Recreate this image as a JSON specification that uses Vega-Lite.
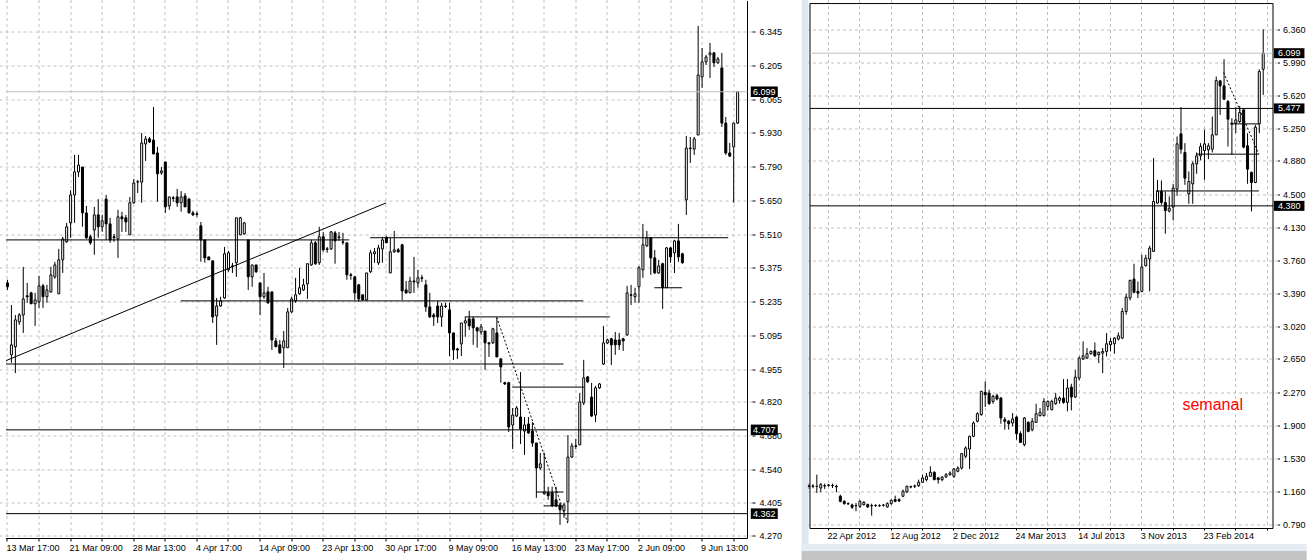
{
"$schema": "https://vega.github.io/schema/vega-lite/v6.json",
"background": "white",
"padding": 0,
"spacing": 51.5,
"bounds": "flush",
"config": {
  "view": {"stroke": null},
  "axis": {"labelFont": "Liberation Sans", "labelFontSize": 9, "labelColor": "black", "tickColor": "black", "tickWidth": 1, "domain": false, "gridColor": "#c0c0c0", "gridDash": [3,3], "gridWidth": 1, "translate": 0, "zindex": 0, "labelOverlap": false, "labelFlush": false, "labelBound": false}
},
"datasets": {
  "d1": [
{"k":0,"o":5.312,"h":5.325,"l":5.283,"c":5.296},{"k":1,"o":5.016,"h":5.221,"l":4.983,"c":5.057},{"k":2,"o":5.049,"h":5.180,"l":4.941,"c":5.160},{"k":3,"o":5.151,"h":5.188,"l":5.139,"c":5.180},{"k":4,"o":5.180,"h":5.378,"l":5.106,"c":5.246},{"k":5,"o":5.259,"h":5.312,"l":5.230,"c":5.255},{"k":6,"o":5.271,"h":5.275,"l":5.226,"c":5.226},{"k":7,"o":5.226,"h":5.271,"l":5.135,"c":5.242},{"k":8,"o":5.234,"h":5.341,"l":5.209,"c":5.300},{"k":9,"o":5.300,"h":5.308,"l":5.209,"c":5.255},
{"k":10,"o":5.255,"h":5.304,"l":5.230,"c":5.283},{"k":11,"o":5.275,"h":5.378,"l":5.271,"c":5.345},{"k":12,"o":5.337,"h":5.399,"l":5.329,"c":5.386},{"k":13,"o":5.267,"h":5.452,"l":5.267,"c":5.407},{"k":14,"o":5.407,"h":5.502,"l":5.353,"c":5.493},{"k":15,"o":5.481,"h":5.559,"l":5.477,"c":5.543},{"k":16,"o":5.559,"h":5.694,"l":5.498,"c":5.674},{"k":17,"o":5.674,"h":5.839,"l":5.559,"c":5.769},{"k":18,"o":5.769,"h":5.839,"l":5.748,"c":5.797},{"k":19,"o":5.789,"h":5.789,"l":5.543,"c":5.600},
{"k":20,"o":5.600,"h":5.629,"l":5.493,"c":5.498},{"k":21,"o":5.502,"h":5.510,"l":5.469,"c":5.477},{"k":22,"o":5.530,"h":5.625,"l":5.428,"c":5.592},{"k":23,"o":5.592,"h":5.657,"l":5.498,"c":5.543},{"k":24,"o":5.543,"h":5.592,"l":5.522,"c":5.568},{"k":25,"o":5.657,"h":5.674,"l":5.489,"c":5.555},{"k":26,"o":5.555,"h":5.580,"l":5.477,"c":5.489},{"k":27,"o":5.502,"h":5.514,"l":5.481,"c":5.498},{"k":28,"o":5.493,"h":5.613,"l":5.415,"c":5.584},{"k":29,"o":5.584,"h":5.605,"l":5.522,"c":5.576},
{"k":30,"o":5.580,"h":5.592,"l":5.522,"c":5.563},{"k":31,"o":5.510,"h":5.666,"l":5.510,"c":5.642},{"k":32,"o":5.642,"h":5.740,"l":5.638,"c":5.723},{"k":33,"o":5.727,"h":5.736,"l":5.682,"c":5.729},{"k":34,"o":5.727,"h":5.929,"l":5.642,"c":5.888},{"k":35,"o":5.884,"h":5.917,"l":5.814,"c":5.905},{"k":36,"o":5.905,"h":5.913,"l":5.888,"c":5.892},{"k":37,"o":5.900,"h":6.036,"l":5.843,"c":5.843},{"k":38,"o":5.847,"h":5.872,"l":5.646,"c":5.761},{"k":39,"o":5.765,"h":5.789,"l":5.757,"c":5.773},
{"k":40,"o":5.810,"h":5.810,"l":5.600,"c":5.625},{"k":41,"o":5.629,"h":5.666,"l":5.613,"c":5.666},{"k":42,"o":5.662,"h":5.670,"l":5.646,"c":5.660},{"k":43,"o":5.666,"h":5.699,"l":5.625,"c":5.642},{"k":44,"o":5.642,"h":5.690,"l":5.605,"c":5.666},{"k":45,"o":5.670,"h":5.682,"l":5.625,"c":5.625},{"k":46,"o":5.657,"h":5.662,"l":5.600,"c":5.600},{"k":47,"o":5.600,"h":5.609,"l":5.588,"c":5.592},{"k":48,"o":5.596,"h":5.605,"l":5.584,"c":5.594},{"k":49,"o":5.547,"h":5.563,"l":5.399,"c":5.489},
{"k":50,"o":5.489,"h":5.489,"l":5.395,"c":5.415},{"k":51,"o":5.419,"h":5.419,"l":5.407,"c":5.407},{"k":52,"o":5.403,"h":5.403,"l":5.147,"c":5.172},{"k":53,"o":5.176,"h":5.250,"l":5.057,"c":5.217},{"k":54,"o":5.217,"h":5.255,"l":5.213,"c":5.238},{"k":55,"o":5.250,"h":5.460,"l":5.246,"c":5.432},{"k":56,"o":5.366,"h":5.444,"l":5.358,"c":5.436},{"k":57,"o":5.382,"h":5.395,"l":5.353,"c":5.380},{"k":58,"o":5.395,"h":5.580,"l":5.337,"c":5.580},{"k":59,"o":5.510,"h":5.584,"l":5.510,"c":5.580},
{"k":60,"o":5.514,"h":5.563,"l":5.510,"c":5.559},{"k":61,"o":5.489,"h":5.489,"l":5.283,"c":5.337},{"k":62,"o":5.337,"h":5.386,"l":5.296,"c":5.386},{"k":63,"o":5.386,"h":5.386,"l":5.353,"c":5.358},{"k":64,"o":5.312,"h":5.312,"l":5.180,"c":5.255},{"k":65,"o":5.255,"h":5.353,"l":5.246,"c":5.271},{"k":66,"o":5.275,"h":5.296,"l":5.226,"c":5.230},{"k":67,"o":5.275,"h":5.275,"l":5.036,"c":5.077},{"k":68,"o":5.073,"h":5.086,"l":5.049,"c":5.049},{"k":69,"o":5.057,"h":5.077,"l":5.020,"c":5.024},
{"k":70,"o":5.045,"h":5.114,"l":4.962,"c":5.073},{"k":71,"o":5.045,"h":5.209,"l":5.045,"c":5.193},{"k":72,"o":5.193,"h":5.255,"l":5.188,"c":5.246},{"k":73,"o":5.238,"h":5.333,"l":5.230,"c":5.263},{"k":74,"o":5.267,"h":5.374,"l":5.263,"c":5.292},{"k":75,"o":5.283,"h":5.329,"l":5.279,"c":5.304},{"k":76,"o":5.308,"h":5.391,"l":5.246,"c":5.391},{"k":77,"o":5.386,"h":5.489,"l":5.382,"c":5.477},{"k":78,"o":5.477,"h":5.485,"l":5.386,"c":5.391},{"k":79,"o":5.395,"h":5.543,"l":5.386,"c":5.502},
{"k":80,"o":5.502,"h":5.522,"l":5.440,"c":5.448},{"k":81,"o":5.452,"h":5.460,"l":5.436,"c":5.450},{"k":82,"o":5.452,"h":5.526,"l":5.448,"c":5.522},{"k":83,"o":5.518,"h":5.526,"l":5.391,"c":5.485},{"k":84,"o":5.498,"h":5.522,"l":5.485,"c":5.502},{"k":85,"o":5.481,"h":5.518,"l":5.469,"c":5.479},{"k":86,"o":5.477,"h":5.477,"l":5.325,"c":5.345},{"k":87,"o":5.345,"h":5.353,"l":5.325,"c":5.343},{"k":88,"o":5.337,"h":5.341,"l":5.242,"c":5.271},{"k":89,"o":5.304,"h":5.308,"l":5.234,"c":5.246},
{"k":90,"o":5.263,"h":5.263,"l":5.238,"c":5.242},{"k":91,"o":5.242,"h":5.353,"l":5.238,"c":5.353},{"k":92,"o":5.358,"h":5.448,"l":5.353,"c":5.436},{"k":93,"o":5.432,"h":5.456,"l":5.395,"c":5.440},{"k":94,"o":5.395,"h":5.469,"l":5.386,"c":5.456},{"k":95,"o":5.452,"h":5.502,"l":5.395,"c":5.489},{"k":96,"o":5.498,"h":5.506,"l":5.477,"c":5.477},{"k":97,"o":5.353,"h":5.498,"l":5.353,"c":5.440},{"k":98,"o":5.440,"h":5.526,"l":5.436,"c":5.448},{"k":99,"o":5.448,"h":5.456,"l":5.436,"c":5.440},
{"k":100,"o":5.469,"h":5.473,"l":5.242,"c":5.279},{"k":101,"o":5.283,"h":5.320,"l":5.267,"c":5.271},{"k":102,"o":5.271,"h":5.337,"l":5.271,"c":5.320},{"k":103,"o":5.320,"h":5.419,"l":5.271,"c":5.316},{"k":104,"o":5.312,"h":5.366,"l":5.292,"c":5.333},{"k":105,"o":5.333,"h":5.345,"l":5.316,"c":5.331},{"k":106,"o":5.304,"h":5.325,"l":5.193,"c":5.213},{"k":107,"o":5.213,"h":5.271,"l":5.168,"c":5.172},{"k":108,"o":5.180,"h":5.188,"l":5.135,"c":5.172},{"k":109,"o":5.217,"h":5.238,"l":5.147,"c":5.172},
{"k":110,"o":5.172,"h":5.230,"l":5.131,"c":5.217},{"k":111,"o":5.217,"h":5.230,"l":5.209,"c":5.215},{"k":112,"o":5.201,"h":5.230,"l":5.011,"c":5.106},{"k":113,"o":5.106,"h":5.106,"l":4.995,"c":5.036},{"k":114,"o":5.040,"h":5.045,"l":4.999,"c":5.036},{"k":115,"o":5.061,"h":5.147,"l":5.011,"c":5.147},{"k":116,"o":5.147,"h":5.172,"l":5.090,"c":5.156},{"k":117,"o":5.164,"h":5.197,"l":5.118,"c":5.135},{"k":118,"o":5.164,"h":5.172,"l":5.057,"c":5.127},{"k":119,"o":5.127,"h":5.131,"l":5.045,"c":5.114},
{"k":120,"o":5.110,"h":5.143,"l":5.098,"c":5.131},{"k":121,"o":5.114,"h":5.114,"l":4.954,"c":5.065},{"k":122,"o":5.065,"h":5.069,"l":5.007,"c":5.061},{"k":123,"o":5.065,"h":5.127,"l":5.061,"c":5.123},{"k":124,"o":5.106,"h":5.168,"l":5.007,"c":5.007},{"k":125,"o":4.999,"h":5.003,"l":4.901,"c":4.966},{"k":126,"o":4.901,"h":4.905,"l":4.892,"c":4.896},{"k":127,"o":4.901,"h":4.905,"l":4.698,"c":4.719},{"k":128,"o":4.727,"h":4.797,"l":4.628,"c":4.768},{"k":129,"o":4.764,"h":4.805,"l":4.760,"c":4.797},
{"k":130,"o":4.760,"h":4.945,"l":4.649,"c":4.711},{"k":131,"o":4.702,"h":4.760,"l":4.604,"c":4.727},{"k":132,"o":4.731,"h":4.760,"l":4.690,"c":4.694},{"k":133,"o":4.702,"h":4.739,"l":4.637,"c":4.653},{"k":134,"o":4.653,"h":4.653,"l":4.427,"c":4.550},{"k":135,"o":4.550,"h":4.612,"l":4.542,"c":4.567},{"k":136,"o":4.444,"h":4.612,"l":4.440,"c":4.452},{"k":137,"o":4.448,"h":4.473,"l":4.419,"c":4.436},{"k":138,"o":4.448,"h":4.473,"l":4.390,"c":4.394},{"k":139,"o":4.419,"h":4.473,"l":4.390,"c":4.394},
{"k":140,"o":4.398,"h":4.407,"l":4.316,"c":4.378},{"k":141,"o":4.374,"h":4.407,"l":4.345,"c":4.398},{"k":142,"o":4.411,"h":4.686,"l":4.328,"c":4.595},{"k":143,"o":4.595,"h":4.653,"l":4.591,"c":4.641},{"k":144,"o":4.641,"h":4.669,"l":4.628,"c":4.639},{"k":145,"o":4.645,"h":4.859,"l":4.645,"c":4.822},{"k":146,"o":4.818,"h":4.995,"l":4.809,"c":4.921},{"k":147,"o":4.925,"h":4.929,"l":4.900,"c":4.905},{"k":148,"o":4.842,"h":4.900,"l":4.760,"c":4.764},{"k":149,"o":4.768,"h":4.888,"l":4.739,"c":4.880},
{"k":150,"o":4.880,"h":4.900,"l":4.876,"c":4.896},{"k":151,"o":4.978,"h":5.135,"l":4.974,"c":5.065},{"k":152,"o":5.065,"h":5.082,"l":5.061,"c":5.077},{"k":153,"o":5.082,"h":5.086,"l":4.974,"c":5.057},{"k":154,"o":5.077,"h":5.110,"l":5.016,"c":5.057},{"k":155,"o":5.077,"h":5.106,"l":5.036,"c":5.057},{"k":156,"o":5.082,"h":5.086,"l":5.032,"c":5.073},{"k":157,"o":5.098,"h":5.300,"l":5.094,"c":5.271},{"k":158,"o":5.263,"h":5.304,"l":5.221,"c":5.261},{"k":159,"o":5.255,"h":5.292,"l":5.230,"c":5.267},
{"k":160,"o":5.296,"h":5.382,"l":5.230,"c":5.374},{"k":161,"o":5.366,"h":5.555,"l":5.333,"c":5.469},{"k":162,"o":5.465,"h":5.526,"l":5.460,"c":5.498},{"k":163,"o":5.498,"h":5.498,"l":5.345,"c":5.415},{"k":164,"o":5.415,"h":5.448,"l":5.349,"c":5.353},{"k":165,"o":5.353,"h":5.407,"l":5.349,"c":5.382},{"k":166,"o":5.391,"h":5.395,"l":5.205,"c":5.292},{"k":167,"o":5.292,"h":5.460,"l":5.292,"c":5.456},{"k":168,"o":5.456,"h":5.460,"l":5.395,"c":5.419},{"k":169,"o":5.436,"h":5.489,"l":5.353,"c":5.485},
{"k":170,"o":5.485,"h":5.555,"l":5.399,"c":5.419},{"k":171,"o":5.432,"h":5.436,"l":5.391,"c":5.395},{"k":172,"o":5.654,"h":5.917,"l":5.592,"c":5.867},{"k":173,"o":5.867,"h":5.913,"l":5.806,"c":5.865},{"k":174,"o":5.863,"h":5.913,"l":5.839,"c":5.905},{"k":175,"o":5.921,"h":6.370,"l":5.921,"c":6.168},{"k":176,"o":6.160,"h":6.279,"l":6.115,"c":6.222},{"k":177,"o":6.222,"h":6.251,"l":6.209,"c":6.242},{"k":178,"o":6.251,"h":6.300,"l":6.156,"c":6.259},{"k":179,"o":6.259,"h":6.263,"l":6.201,"c":6.218},
{"k":180,"o":6.218,"h":6.242,"l":6.214,"c":6.234},{"k":181,"o":6.197,"h":6.259,"l":5.954,"c":5.970},{"k":182,"o":5.970,"h":5.995,"l":5.839,"c":5.847},{"k":183,"o":5.847,"h":5.888,"l":5.830,"c":5.834},{"k":184,"o":5.872,"h":5.970,"l":5.642,"c":5.970},{"k":185,"o":5.970,"h":6.102,"l":5.966,"c":6.099}
  ],
  "w1": [
{"k":0,"o":1.222,"h":1.252,"l":1.192,"c":1.226},{"k":1,"o":1.222,"h":1.245,"l":1.200,"c":1.226},{"k":2,"o":1.222,"h":1.353,"l":1.147,"c":1.220},{"k":3,"o":1.203,"h":1.260,"l":1.155,"c":1.241},{"k":4,"o":1.226,"h":1.252,"l":1.192,"c":1.230},{"k":5,"o":1.233,"h":1.248,"l":1.218,"c":1.237},{"k":6,"o":1.230,"h":1.252,"l":1.203,"c":1.233},{"k":7,"o":1.222,"h":1.241,"l":1.155,"c":1.218},{"k":8,"o":1.110,"h":1.128,"l":1.042,"c":1.053},{"k":9,"o":1.053,"h":1.065,"l":1.016,"c":1.027},
{"k":10,"o":1.027,"h":1.042,"l":1.012,"c":1.025},{"k":11,"o":1.012,"h":1.027,"l":0.967,"c":0.986},{"k":12,"o":1.005,"h":1.035,"l":0.941,"c":1.003},{"k":13,"o":0.997,"h":1.065,"l":0.978,"c":1.053},{"k":14,"o":1.016,"h":1.053,"l":1.005,"c":1.042},{"k":15,"o":1.016,"h":1.027,"l":0.978,"c":0.990},{"k":16,"o":1.005,"h":1.027,"l":0.892,"c":1.003},{"k":17,"o":1.005,"h":1.020,"l":0.990,"c":1.007},{"k":18,"o":1.005,"h":1.020,"l":0.990,"c":1.003},{"k":19,"o":1.008,"h":1.024,"l":0.994,"c":1.010},
{"k":20,"o":0.990,"h":1.042,"l":0.982,"c":1.027},{"k":21,"o":1.027,"h":1.072,"l":1.016,"c":1.065},{"k":22,"o":1.072,"h":1.117,"l":1.042,"c":1.053},{"k":23,"o":1.072,"h":1.087,"l":1.046,"c":1.057},{"k":24,"o":1.110,"h":1.185,"l":1.102,"c":1.166},{"k":25,"o":1.158,"h":1.230,"l":1.147,"c":1.222},{"k":26,"o":1.215,"h":1.230,"l":1.200,"c":1.218},{"k":27,"o":1.222,"h":1.241,"l":1.203,"c":1.226},{"k":28,"o":1.230,"h":1.297,"l":1.215,"c":1.267},{"k":29,"o":1.267,"h":1.353,"l":1.260,"c":1.316},
{"k":30,"o":1.297,"h":1.372,"l":1.278,"c":1.335},{"k":31,"o":1.335,"h":1.447,"l":1.327,"c":1.380},{"k":32,"o":1.380,"h":1.391,"l":1.290,"c":1.297},{"k":33,"o":1.316,"h":1.327,"l":1.252,"c":1.297},{"k":34,"o":1.297,"h":1.335,"l":1.278,"c":1.327},{"k":35,"o":1.327,"h":1.372,"l":1.316,"c":1.353},{"k":36,"o":1.353,"h":1.391,"l":1.342,"c":1.372},{"k":37,"o":1.335,"h":1.428,"l":1.316,"c":1.417},{"k":38,"o":1.391,"h":1.447,"l":1.380,"c":1.428},{"k":39,"o":1.428,"h":1.597,"l":1.410,"c":1.590},
{"k":40,"o":1.560,"h":1.672,"l":1.541,"c":1.654},{"k":41,"o":1.642,"h":1.792,"l":1.417,"c":1.785},{"k":42,"o":1.785,"h":1.954,"l":1.777,"c":1.935},{"k":43,"o":1.954,"h":2.055,"l":1.942,"c":2.040},{"k":44,"o":2.029,"h":2.298,"l":2.017,"c":2.291},{"k":45,"o":2.280,"h":2.404,"l":2.115,"c":2.253},{"k":46,"o":2.272,"h":2.310,"l":2.141,"c":2.152},{"k":47,"o":2.178,"h":2.253,"l":2.152,"c":2.235},{"k":48,"o":2.242,"h":2.265,"l":2.190,"c":2.205},{"k":49,"o":2.216,"h":2.227,"l":1.927,"c":1.991},
{"k":50,"o":1.972,"h":2.002,"l":1.860,"c":1.954},{"k":51,"o":1.957,"h":1.965,"l":1.860,"c":1.927},{"k":52,"o":1.935,"h":2.047,"l":1.897,"c":1.980},{"k":53,"o":2.002,"h":2.017,"l":1.747,"c":1.815},{"k":54,"o":1.815,"h":1.841,"l":1.710,"c":1.717},{"k":55,"o":1.691,"h":2.002,"l":1.672,"c":1.991},{"k":56,"o":1.942,"h":1.954,"l":1.830,"c":1.841},{"k":57,"o":1.860,"h":1.991,"l":1.841,"c":1.954},{"k":58,"o":1.942,"h":2.152,"l":1.935,"c":2.040},{"k":59,"o":2.017,"h":2.104,"l":2.010,"c":2.055},
{"k":60,"o":2.017,"h":2.216,"l":2.010,"c":2.178},{"k":61,"o":2.122,"h":2.190,"l":2.077,"c":2.178},{"k":62,"o":2.085,"h":2.197,"l":2.077,"c":2.178},{"k":63,"o":2.152,"h":2.272,"l":2.141,"c":2.216},{"k":64,"o":2.190,"h":2.235,"l":2.152,"c":2.216},{"k":65,"o":2.216,"h":2.430,"l":2.152,"c":2.167},{"k":66,"o":2.167,"h":2.430,"l":2.066,"c":2.329},{"k":67,"o":2.340,"h":2.377,"l":2.077,"c":2.227},{"k":68,"o":2.227,"h":2.535,"l":2.216,"c":2.452},{"k":69,"o":2.441,"h":2.685,"l":2.415,"c":2.666},
{"k":70,"o":2.655,"h":2.854,"l":2.647,"c":2.692},{"k":71,"o":2.666,"h":2.779,"l":2.655,"c":2.715},{"k":72,"o":2.715,"h":2.752,"l":2.704,"c":2.741},{"k":73,"o":2.749,"h":2.842,"l":2.677,"c":2.692},{"k":74,"o":2.704,"h":2.741,"l":2.610,"c":2.730},{"k":75,"o":2.722,"h":2.779,"l":2.497,"c":2.741},{"k":76,"o":2.741,"h":2.947,"l":2.685,"c":2.827},{"k":77,"o":2.816,"h":2.891,"l":2.741,"c":2.854},{"k":78,"o":2.827,"h":2.902,"l":2.715,"c":2.891},{"k":79,"o":2.880,"h":2.955,"l":2.865,"c":2.917},
{"k":80,"o":2.891,"h":3.229,"l":2.880,"c":3.191},{"k":81,"o":3.191,"h":3.390,"l":3.154,"c":3.352},{"k":82,"o":3.342,"h":3.548,"l":3.316,"c":3.541},{"k":83,"o":3.556,"h":3.728,"l":3.398,"c":3.406},{"k":84,"o":3.417,"h":3.529,"l":3.342,"c":3.398},{"k":85,"o":3.417,"h":3.829,"l":3.406,"c":3.691},{"k":86,"o":3.706,"h":3.829,"l":3.698,"c":3.792},{"k":87,"o":3.781,"h":3.931,"l":3.417,"c":3.904},{"k":88,"o":3.867,"h":4.917,"l":3.867,"c":4.429},{"k":89,"o":4.411,"h":4.673,"l":4.403,"c":4.542},
{"k":90,"o":4.542,"h":4.666,"l":4.392,"c":4.418},{"k":91,"o":4.418,"h":4.542,"l":4.066,"c":4.328},{"k":92,"o":4.321,"h":4.486,"l":4.306,"c":4.354},{"k":93,"o":4.366,"h":4.628,"l":4.216,"c":4.579},{"k":94,"o":4.568,"h":5.161,"l":4.493,"c":5.078},{"k":95,"o":5.191,"h":5.491,"l":4.966,"c":5.018},{"k":96,"o":4.981,"h":5.086,"l":4.617,"c":4.692},{"k":97,"o":4.516,"h":4.767,"l":4.403,"c":4.654},{"k":98,"o":4.628,"h":4.879,"l":4.403,"c":4.853},{"k":99,"o":4.853,"h":4.981,"l":4.741,"c":4.943},
{"k":100,"o":4.943,"h":5.086,"l":4.891,"c":5.048},{"k":101,"o":5.003,"h":5.236,"l":4.673,"c":5.078},{"k":102,"o":5.011,"h":5.086,"l":4.906,"c":5.056},{"k":103,"o":5.018,"h":5.386,"l":4.981,"c":5.179},{"k":104,"o":5.179,"h":5.836,"l":5.179,"c":5.791},{"k":105,"o":5.787,"h":5.798,"l":5.404,"c":5.731},{"k":106,"o":5.731,"h":6.031,"l":5.573,"c":5.581},{"k":107,"o":5.554,"h":5.573,"l":5.048,"c":5.356},{"k":108,"o":5.311,"h":5.367,"l":4.954,"c":5.303},{"k":109,"o":5.311,"h":5.491,"l":5.198,"c":5.348},
{"k":110,"o":5.329,"h":5.506,"l":5.311,"c":5.431},{"k":111,"o":5.461,"h":5.479,"l":5.029,"c":5.041},{"k":112,"o":5.056,"h":5.198,"l":4.628,"c":4.793},{"k":113,"o":4.756,"h":4.767,"l":4.317,"c":4.643},{"k":114,"o":4.643,"h":5.292,"l":4.636,"c":5.266},{"k":115,"o":5.303,"h":5.918,"l":5.198,"c":5.892},{"k":116,"o":5.918,"h":6.368,"l":5.629,"c":6.099}
  ],
  "sl": [
{"k":-0.375,"k2":86.6,"p":5.489,"p2":5.489},{"k":91.9,"k2":182.6,"p":5.498,"p2":5.498},{"k":43.9,"k2":145.9,"p":5.238,"p2":5.238},{"k":115.9,"k2":152.6,"p":5.172,"p2":5.172},{"k":-0.375,"k2":140.9,"p":4.978,"p2":4.978},{"k":127.9,"k2":146.1,"p":4.883,"p2":4.883},{"k":-0.375,"k2":187.5,"p":4.707,"p2":4.707},{"k":-0.375,"k2":187.5,"p":4.362,"p2":4.362},{"k":133.9,"k2":140.9,"p":4.451,"p2":4.451},{"k":135.9,"k2":140.6,"p":4.394,"p2":4.394},{"k":163.9,"k2":170.9,"p":5.292,"p2":5.292},{"k":-0.375,"k2":95.9,"p":4.992,"p2":5.641},{"k":187.5,"k2":187.5,"p":6.4726,"p2":4.2597},{"k":-0.375,"k2":187.5,"p":4.2597,"p2":4.2597}
  ],
  "dl": [{"k":123.95,"k2":142.05,"p":5.171,"p2":4.319}],
  "gl": [{"k":-0.375,"k2":187.5,"p":6.099,"p2":6.099}],
  "bl": [{"p":6.099},{"p":4.707},{"p":4.362}],
  "sr": [
{"k":0.25,"k2":118.5,"p":5.477,"p2":5.477},{"k":0.25,"k2":118.5,"p":4.38,"p2":4.38},{"k":88.6,"k2":114.9,"p":4.548,"p2":4.548},{"k":98.9,"k2":114.9,"p":4.962,"p2":4.962},{"k":107.6,"k2":114.9,"p":5.303,"p2":5.303},{"k":0.25,"k2":0.25,"p":0.747,"p2":6.658},{"k":0.25,"k2":118.5,"p":6.658,"p2":6.658},{"k":118.5,"k2":118.5,"p":6.658,"p2":0.747},{"k":0.25,"k2":118.5,"p":0.747,"p2":0.747}
  ],
  "dr": [{"k":105.9,"k2":114.9,"p":5.881,"p2":4.962}],
  "gr": [{"k":0.25,"k2":118.5,"p":6.099,"p2":6.099}],
  "br": [{"p":6.099},{"p":5.477},{"p":4.38}]
},
"hconcat": [
{
  "width": 752.5, "height": 538.5,
  "layer": [
    {"data": {"name": "d1"}, "mark": {"type": "rule", "color": "black", "strokeWidth": 1},
     "encoding": {
       "x": {"field": "k", "type": "quantitative", "scale": {"domain": [-0.625, 187.5], "nice": false, "zero": false},
             "axis": {"orient": "bottom", "title": null, "values": [0,8,16,24,32,40,48,56,64,72,80,88,96,104,112,120,128,136,144,152,160,168,176,184], "tickCount": 100,
                      "labelExpr": "['13 Mar 17:00','','21 Mar 09:00','','28 Mar 13:00','','4 Apr 17:00','','14 Apr 09:00','','23 Apr 13:00','','30 Apr 17:00','','9 May 09:00','','16 May 13:00','','23 May 17:00','','2 Jun 09:00','','9 Jun 13:00',''][round(datum.value/8)]",
                      "labelAlign": "left", "labelBaseline": "top", "labelOffset": -1, "tickSize": 3, "labelPadding": 2, "grid": true, "labelOverlap": false, "labelFlush": false, "labelBound": false}},
       "y": {"field": "l", "type": "quantitative", "scale": {"domain": [4.2597, 6.4767], "nice": false, "zero": false},
             "axis": {"orient": "right", "title": null, "values": [6.345,6.205,6.065,5.93,5.79,5.65,5.51,5.375,5.235,5.095,4.955,4.82,4.68,4.54,4.405,4.27], "tickCount": 100,
                      "format": ".3f", "tickSize": 3, "labelPadding": 4, "labelAlign": "left", "labelBaseline": "middle", "grid": true, "labelOverlap": false, "labelFlush": false, "labelBound": false}},
       "y2": {"field": "h"}
     }},
    {"data": {"name": "d1"}, "mark": {"type": "bar", "size": 2, "stroke": "black", "strokeWidth": 1},
     "encoding": {
       "x": {"field": "k", "type": "quantitative", "scale": {"domain": [-0.625, 187.5], "nice": false, "zero": false}},
       "y": {"field": "o", "type": "quantitative", "scale": {"domain": [4.2597, 6.4767], "nice": false, "zero": false}},
       "y2": {"field": "c"},
       "fill": {"condition": {"test": "datum.c >= datum.o", "value": "white"}, "value": "black"}
     }},
    {"data": {"name": "sl"}, "mark": {"type": "rule", "color": "black", "strokeWidth": 1},
     "encoding": {
       "x": {"field": "k", "type": "quantitative", "scale": {"domain": [-0.625, 187.5], "nice": false, "zero": false}},
       "x2": {"field": "k2"},
       "y": {"field": "p", "type": "quantitative", "scale": {"domain": [4.2597, 6.4767], "nice": false, "zero": false}},
       "y2": {"field": "p2"}
     }},
    {"data": {"name": "dl"}, "mark": {"type": "rule", "color": "black", "strokeWidth": 1, "strokeDash": [2,2]},
     "encoding": {
       "x": {"field": "k", "type": "quantitative", "scale": {"domain": [-0.625, 187.5], "nice": false, "zero": false}},
       "x2": {"field": "k2"},
       "y": {"field": "p", "type": "quantitative", "scale": {"domain": [4.2597, 6.4767], "nice": false, "zero": false}},
       "y2": {"field": "p2"}
     }},
    {"data": {"name": "gl"}, "mark": {"type": "rule", "color": "#c0c0c0", "strokeWidth": 1},
     "encoding": {
       "x": {"field": "k", "type": "quantitative", "scale": {"domain": [-0.625, 187.5], "nice": false, "zero": false}},
       "x2": {"field": "k2"},
       "y": {"field": "p", "type": "quantitative", "scale": {"domain": [4.2597, 6.4767], "nice": false, "zero": false}},
       "y2": {"field": "p2"}
     }},
    {"data": {"name": "bl"}, "mark": {"type": "point", "shape": "M-1,-0.39H1V0.39H-1Z", "size": 729, "filled": true, "color": "black", "opacity": 1, "strokeWidth": 0},
     "encoding": {
       "x": {"datum": 191.75, "type": "quantitative", "scale": {"domain": [-0.625, 187.5], "nice": false, "zero": false}},
       "y": {"field": "p", "type": "quantitative", "scale": {"domain": [4.2597, 6.4767], "nice": false, "zero": false}}
     }},
    {"data": {"name": "bl"}, "mark": {"type": "text", "color": "white", "font": "Liberation Sans", "fontSize": 9, "align": "center", "baseline": "middle"},
     "encoding": {
       "x": {"datum": 191.75, "type": "quantitative", "scale": {"domain": [-0.625, 187.5], "nice": false, "zero": false}},
       "y": {"field": "p", "type": "quantitative", "scale": {"domain": [4.2597, 6.4767], "nice": false, "zero": false}},
       "text": {"field": "p", "type": "quantitative", "format": ".3f"}
     }}
  ]
},
{
  "width": 473.5, "height": 528.5,
  "layer": [
    {"data": {"name": "w1"}, "mark": {"type": "rule", "color": "black", "strokeWidth": 1},
     "encoding": {
       "x": {"field": "k", "type": "quantitative", "scale": {"domain": [0.125, 118.5], "nice": false, "zero": false},
             "axis": {"orient": "bottom", "title": null, "values": [5,13,21,29,37,45,53,61,69,77,85,93,101,109,117], "tickCount": 100,
                      "labelExpr": "['22 Apr 2012','','12 Aug 2012','','2 Dec 2012','','24 Mar 2013','','14 Jul 2013','','3 Nov 2013','','23 Feb 2014','',''][round((datum.value-5)/8)]",
                      "labelAlign": "left", "labelBaseline": "top", "labelOffset": -1, "tickSize": 2, "labelPadding": 1, "grid": true, "labelOverlap": false, "labelFlush": false, "labelBound": false}},
       "y": {"field": "l", "type": "quantitative", "scale": {"domain": [0.747, 6.698], "nice": false, "zero": false},
             "axis": {"orient": "right", "title": null, "values": [6.36,5.99,5.62,5.25,4.88,4.5,4.13,3.76,3.39,3.02,2.65,2.27,1.9,1.53,1.16,0.79], "tickCount": 100,
                      "format": ".3f", "tickSize": 2, "labelPadding": 3, "labelAlign": "left", "labelBaseline": "middle", "grid": true, "labelOverlap": false, "labelFlush": false, "labelBound": false}},
       "y2": {"field": "h"}
     }},
    {"data": {"values": [{}]}, "mark": {"type": "rect", "color": "#dfe7f0"},
     "encoding": {
       "x": {"datum": -1.875, "type": "quantitative", "scale": {"domain": [0.125, 118.5], "nice": false, "zero": false}},
       "x2": {"datum": -0.125},
       "y": {"datum": 6.698, "type": "quantitative", "scale": {"domain": [0.747, 6.698], "nice": false, "zero": false}},
       "y2": {"datum": 0.393}
     }},
    {"data": {"values": [{}]}, "mark": {"type": "rect", "color": "#e4ebf3"},
     "encoding": {
       "x": {"datum": -1.875, "type": "quantitative", "scale": {"domain": [0.125, 118.5], "nice": false, "zero": false}},
       "x2": {"datum": 127.1},
       "y": {"datum": 0.573, "type": "quantitative", "scale": {"domain": [0.747, 6.698], "nice": false, "zero": false}},
       "y2": {"datum": 0.494}
     }},
    {"data": {"values": [{}]}, "mark": {"type": "rect", "color": "#c4c4c4"},
     "encoding": {
       "x": {"datum": -1.875, "type": "quantitative", "scale": {"domain": [0.125, 118.5], "nice": false, "zero": false}},
       "x2": {"datum": 127.1},
       "y": {"datum": 0.494, "type": "quantitative", "scale": {"domain": [0.747, 6.698], "nice": false, "zero": false}},
       "y2": {"datum": 0.393}
     }},
    {"data": {"name": "w1"}, "mark": {"type": "bar", "size": 2, "stroke": "black", "strokeWidth": 1},
     "encoding": {
       "x": {"field": "k", "type": "quantitative", "scale": {"domain": [0.125, 118.5], "nice": false, "zero": false}},
       "y": {"field": "o", "type": "quantitative", "scale": {"domain": [0.747, 6.698], "nice": false, "zero": false}},
       "y2": {"field": "c"},
       "fill": {"condition": {"test": "datum.c >= datum.o", "value": "white"}, "value": "black"}
     }},
    {"data": {"name": "sr"}, "mark": {"type": "rule", "color": "black", "strokeWidth": 1},
     "encoding": {
       "x": {"field": "k", "type": "quantitative", "scale": {"domain": [0.125, 118.5], "nice": false, "zero": false}},
       "x2": {"field": "k2"},
       "y": {"field": "p", "type": "quantitative", "scale": {"domain": [0.747, 6.698], "nice": false, "zero": false}},
       "y2": {"field": "p2"}
     }},
    {"data": {"name": "dr"}, "mark": {"type": "rule", "color": "black", "strokeWidth": 1, "strokeDash": [2,2]},
     "encoding": {
       "x": {"field": "k", "type": "quantitative", "scale": {"domain": [0.125, 118.5], "nice": false, "zero": false}},
       "x2": {"field": "k2"},
       "y": {"field": "p", "type": "quantitative", "scale": {"domain": [0.747, 6.698], "nice": false, "zero": false}},
       "y2": {"field": "p2"}
     }},
    {"data": {"name": "gr"}, "mark": {"type": "rule", "color": "#c0c0c0", "strokeWidth": 1},
     "encoding": {
       "x": {"field": "k", "type": "quantitative", "scale": {"domain": [0.125, 118.5], "nice": false, "zero": false}},
       "x2": {"field": "k2"},
       "y": {"field": "p", "type": "quantitative", "scale": {"domain": [0.747, 6.698], "nice": false, "zero": false}},
       "y2": {"field": "p2"}
     }},
    {"data": {"name": "br"}, "mark": {"type": "point", "shape": "M-1,-0.327H1V0.327H-1Z", "size": 936, "filled": true, "color": "black", "opacity": 1, "strokeWidth": 0},
     "encoding": {
       "x": {"datum": 122.625, "type": "quantitative", "scale": {"domain": [0.125, 118.5], "nice": false, "zero": false}},
       "y": {"field": "p", "type": "quantitative", "scale": {"domain": [0.747, 6.698], "nice": false, "zero": false}}
     }},
    {"data": {"name": "br"}, "mark": {"type": "text", "color": "white", "font": "Liberation Sans", "fontSize": 9, "align": "center", "baseline": "middle"},
     "encoding": {
       "x": {"datum": 122.625, "type": "quantitative", "scale": {"domain": [0.125, 118.5], "nice": false, "zero": false}},
       "y": {"field": "p", "type": "quantitative", "scale": {"domain": [0.747, 6.698], "nice": false, "zero": false}},
       "text": {"field": "p", "type": "quantitative", "format": ".3f"}
     }},
    {"data": {"values": [{}]}, "mark": {"type": "text", "text": "semanal", "color": "#ff0000", "font": "Liberation Sans", "fontSize": 16, "align": "left", "baseline": "alphabetic"},
     "encoding": {
       "x": {"datum": 95.375, "type": "quantitative", "scale": {"domain": [0.125, 118.5], "nice": false, "zero": false}},
       "y": {"datum": 2.082, "type": "quantitative", "scale": {"domain": [0.747, 6.698], "nice": false, "zero": false}}
     }}
  ]
}
]
}
